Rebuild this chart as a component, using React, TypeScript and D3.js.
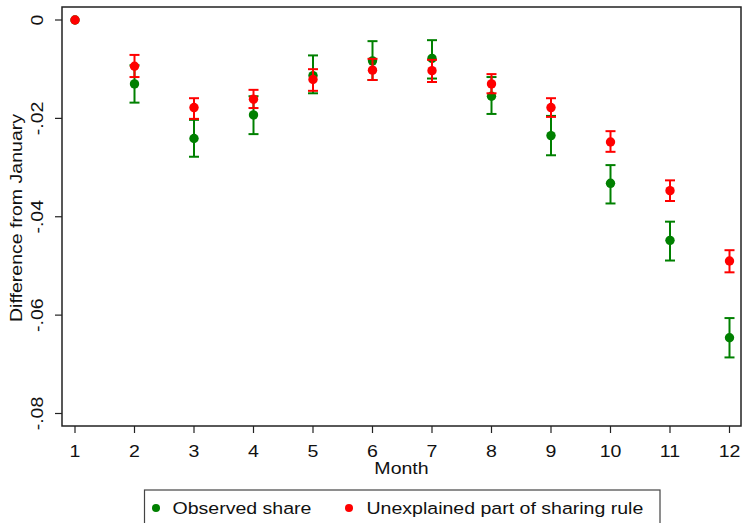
import React from "react";
import * as d3 from "d3";

const months = [1, 2, 3, 4, 5, 6, 7, 8, 9, 10, 11, 12];
const observedMean = [0, -0.013, -0.0241, -0.0193, -0.0113, -0.0083, -0.0078, -0.0155, -0.0235, -0.0332, -0.0448, -0.0646];
const observedHi = [0, -0.0092, -0.0203, -0.0155, -0.0072, -0.0043, -0.0041, -0.0116, -0.0195, -0.0295, -0.041, -0.0606];
const observedLo = [0, -0.0168, -0.0278, -0.0232, -0.0149, -0.0122, -0.0119, -0.0191, -0.0275, -0.0373, -0.0489, -0.0686];
const unexplMean = [0, -0.0094, -0.0178, -0.0161, -0.0121, -0.0102, -0.0103, -0.013, -0.0178, -0.0248, -0.0347, -0.049];
const unexplHi = [0, -0.0071, -0.0159, -0.0142, -0.01, -0.0079, -0.0081, -0.011, -0.0159, -0.0226, -0.0326, -0.0468];
const unexplLo = [0, -0.0116, -0.0201, -0.0179, -0.0144, -0.0122, -0.0126, -0.0149, -0.0197, -0.0268, -0.0368, -0.0513];
const yTicks = [0, -0.02, -0.04, -0.06, -0.08];
const yTickLabels = ["0", "-.02", "-.04", "-.06", "-.08"];
const seriesNames = ["Observed share", "Unexplained part of sharing rule"];

const W = 742;
const H = 523;
const left = 62, right = 741, top = 7, bottom = 426;
const font = "Arial, 'Liberation Sans', sans-serif";
const FS = 17;
const SX = 1.15;

export default function App() {
  const x = d3.scaleLinear().domain([1, 12]).range([75, 729.5]);
  const y = d3.scaleLinear().domain([0, -0.08]).range([20, 413.5]);

  const series = [
    { name: seriesNames[0], color: "#008000", mean: observedMean, lo: observedLo, hi: observedHi },
    { name: seriesNames[1], color: "#ff0000", mean: unexplMean, lo: unexplLo, hi: unexplHi },
  ];

  return (
    <svg width={W} height={H} style={{ position: "absolute", left: 0, top: 0, background: "#fff" }} fontFamily={font}>
      <rect x={0} y={0} width={W} height={H} fill="#fff" />
      {/* frame */}
      <rect x={left} y={top} width={right - left} height={bottom - top} fill="none" stroke="#222" strokeWidth={1.5} />
      {/* y ticks */}
      {yTicks.map((t, i) => (
        <g key={"y" + i}>
          <line x1={left - 7} x2={left} y1={y(t)} y2={y(t)} stroke="#222" strokeWidth={1.2} />
          <text
            transform={`translate(${43},${y(t)}) rotate(-90) scale(${SX},1)`}
            textAnchor="middle"
            fontSize={FS}
            fill="#111"
          >
            {yTickLabels[i]}
          </text>
        </g>
      ))}
      {/* x ticks */}
      {months.map((m) => (
        <g key={"x" + m}>
          <line x1={x(m)} x2={x(m)} y1={bottom} y2={bottom + 7} stroke="#222" strokeWidth={1.2} />
          <text transform={`translate(${x(m)},457) scale(${SX},1)`} textAnchor="middle" fontSize={FS} fill="#111">
            {m}
          </text>
        </g>
      ))}
      <text transform={`translate(${(left + right) / 2},474) scale(${SX},1)`} textAnchor="middle" fontSize={FS} fill="#111">
        Month
      </text>
      <text
        transform={`translate(${22},${218}) rotate(-90) scale(${SX},1)`}
        textAnchor="middle"
        fontSize={FS}
        fill="#111"
      >
        Difference from January
      </text>
      {/* series */}
      {series.map((s, si) => (
        <g key={"s" + si}>
          {months.map((m, i) =>
            s.hi[i] !== s.lo[i] ? (
              <g key={i} stroke={s.color} strokeWidth={2}>
                <line x1={x(m)} x2={x(m)} y1={y(s.hi[i])} y2={y(s.lo[i])} />
                <line x1={x(m) - 5} x2={x(m) + 5} y1={y(s.hi[i])} y2={y(s.hi[i])} />
                <line x1={x(m) - 5} x2={x(m) + 5} y1={y(s.lo[i])} y2={y(s.lo[i])} />
              </g>
            ) : null
          )}
          {months.map((m, i) => (
            <circle key={"c" + i} cx={x(m)} cy={y(s.mean[i])} r={4.7} fill={s.color} />
          ))}
        </g>
      ))}
      {/* legend */}
      <rect x={144.5} y={490} width={515.5} height={40} fill="#fff" stroke="#444" strokeWidth={1.2} />
      <circle cx={156} cy={508} r={4} fill={series[0].color} />
      <text transform={`translate(172.5,514) scale(${SX},1)`} fontSize={FS} fill="#111">{series[0].name}</text>
      <circle cx={349} cy={508} r={4} fill={series[1].color} />
      <text transform={`translate(366.5,514) scale(${SX},1)`} fontSize={FS} fill="#111">{series[1].name}</text>
    </svg>
  );
}
